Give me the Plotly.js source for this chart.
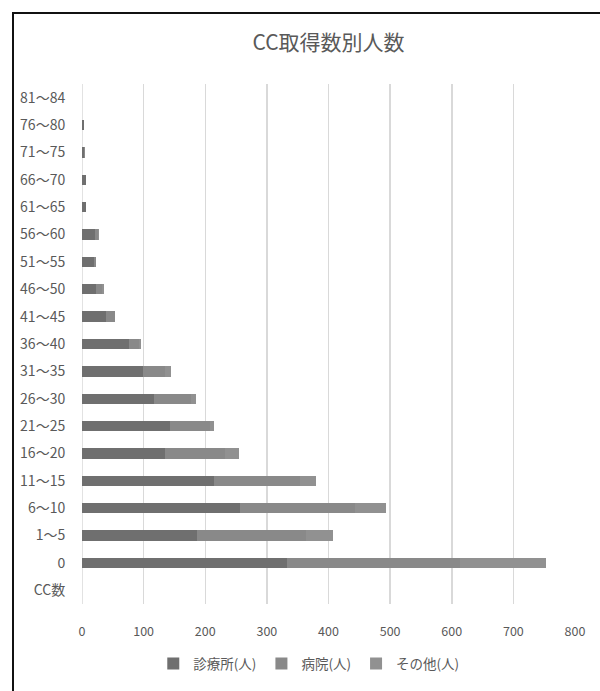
<!DOCTYPE html>
<html>
<head>
<meta charset="utf-8">
<script src="https://cdn.plot.ly/plotly-3.0.1.min.js"></script>
<style>
  html, body { margin: 0; padding: 0; background: #fff; overflow: hidden; }
  #wrap { position: relative; width: 600px; height: 691px; overflow: hidden; }
  #chart { width: 600px; height: 691px; }
  #frame { position: absolute; left: 12px; top: 12px; width: 600px; height: 700px;
           border-left: 2px solid #111; border-top: 2px solid #111; pointer-events: none; }
</style>
</head>
<body>
<div id="wrap">
  <div id="chart"></div>
  <div id="frame"></div>
</div>
<script>
const categories = ['CC数','0','1～5','6～10','11～15','16～20','21～25','26～30','31～35','36～40','41～45','46～50','51～55','56～60','61～65','66～70','71～75','76～80','81～84'];
const clinic   = [null,333,187,257,215,135,143,117,99,77,39,23,20,21,7,7,4,3,0];
const hospital = [null,281,176,186,138,97,65,60,36,15,15,10,2,5,0,0,1,0,0];
const other    = [null,139,44,51,26,23,7,8,10,4,0,3,0,1,0,0,0,0,0];
const seriesNames = ['診療所(人)','病院(人)','その他(人)'];
const xTicks = [0,100,200,300,400,500,600,700,800];

const font = '"Noto Sans CJK JP", "Noto Sans", sans-serif';
const colors = ['#6f6f6f','#898989','#919191'];
const vals = [clinic, hospital, other];

const traces = vals.map((v, i) => ({
  type: 'bar',
  orientation: 'h',
  name: seriesNames[i],
  y: categories,
  x: v,
  marker: { color: colors[i], line: { width: 0 } },
  hoverinfo: 'x+y+name'
}));

const layout = {
  width: 600, height: 691,
  margin: { l: 82, r: 25, t: 84, b: 82 },
  paper_bgcolor: '#fff', plot_bgcolor: '#fff',
  barmode: 'stack',
  bargap: 0.62,
  title: { text: 'CC取得数別人数', x: 0.5, xref: 'paper', y: 1, yref: 'container', yanchor: 'top', pad: { t: 35 },
           font: { family: font, size: 21, color: '#595959' } },
  font: { family: font, color: '#595959', size: 13 },
  xaxis: {
    range: [0, 800], tickvals: xTicks, ticktext: xTicks.map(String),
    showgrid: true, gridcolor: '#d9d9d9', gridwidth: 1.5,
    zeroline: false, showline: false,
    ticks: 'outside', ticklen: 16, tickcolor: 'rgba(0,0,0,0)',
    tickfont: { family: font, size: 12.5, color: '#595959' }, fixedrange: true
  },
  yaxis: {
    type: 'category', categoryorder: 'array', categoryarray: categories,
    showgrid: false, zeroline: false, showline: false,
    ticks: 'outside', ticklen: 13, tickcolor: 'rgba(0,0,0,0)',
    tickfont: { family: font, size: 14, color: '#595959' }, fixedrange: true
  },
  showlegend: true,
  legend: { orientation: 'h', x: 0.46, xanchor: 'center', y: -0.085, yanchor: 'top',
            font: { family: font, size: 13.5, color: '#595959' }, itemwidth: 30, traceorder: 'normal' },
  shapes: [{ type: 'line', xref: 'x', yref: 'paper', x0: 0, x1: 0, y0: 0, y1: 1,
             line: { color: '#d9d9d9', width: 1.5 }, layer: 'below' }]
};

Plotly.newPlot('chart', traces, layout, { displayModeBar: false, staticPlot: true });
</script>
</body>
</html>
